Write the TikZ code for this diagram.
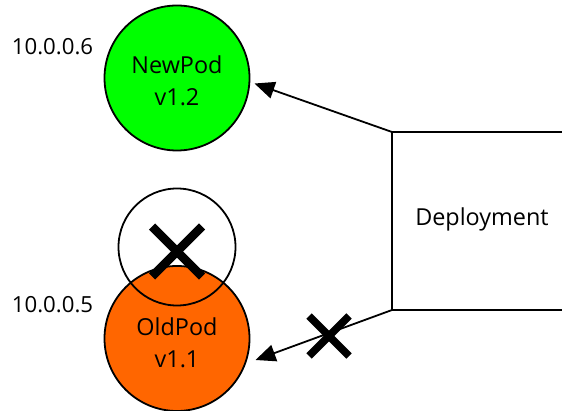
\documentclass[tikz,border=0pt]{standalone}
\usepackage{fontspec}
\setmainfont{Open Sans}
\usetikzlibrary{arrows.meta}
\definecolor{podgreen}{RGB}{0,255,0}
\definecolor{podorange}{RGB}{255,102,0}
\tikzset{
  x=1pt,y=-1pt,
  pod/.style={circle,draw=black,line width=1.8pt,minimum size=145pt,inner sep=0pt},
  podtext/.style={inner sep=0pt,align=center,font=\fontsize{23.4}{32}\selectfont},
  ghost/.style={circle,draw=black,line width=1.8pt,minimum size=117pt,inner sep=0pt},
  label/.style={inner sep=0pt,font=\fontsize{23.4}{28}\selectfont},
  iplabel/.style={inner sep=0pt,font=\fontsize{22.2}{28}\selectfont},
  link/.style={draw=black,line width=1.8pt},
  arrowlink/.style={link,-{Triangle[length=20pt,width=17pt]}},
  bigcross/.style={draw=black,line width=8.5pt},
  smallcross/.style={draw=black,line width=7.5pt}
}
\begin{document}
\begin{tikzpicture}
\useasboundingbox (0,0) rectangle (562,411);
\node[pod,fill=podgreen] (newpod) at (177,78) {};
\node[podtext] (newtext) at (177,80.5) {NewPod\\v1.2};
\node[pod,fill=podorange] (oldpod) at (177,338.5) {};
\node[podtext] (oldtext) at (177,342.5) {OldPod\\v1.1};
\node[ghost] (ghost) at (177,247) {};
\node[iplabel] (newip) at (52.5,47) {10.0.0.6};
\node[iplabel] (oldip) at (52.5,305) {10.0.0.5};
\node[label] (deploy) at (482,219) {Deployment};
\coordinate (tr) at (562,132);
\coordinate (tl) at (392,132);
\coordinate (bl) at (392,310);
\coordinate (br) at (562,310);
\coordinate (newtip) at (254.5,83.5);
\coordinate (oldtip) at (255.5,360);
\draw[link,line join=miter] (tr) -- (tl) -- (bl) -- (br);
\draw[arrowlink] (tl) -- (newtip);
\draw[arrowlink] (bl) -- (oldtip);
\coordinate (a1) at (152,226.5); \coordinate (a2) at (202,276.5);
\coordinate (a3) at (202,226.5); \coordinate (a4) at (152,276.5);
\draw[bigcross] (a1) -- (a2); \draw[bigcross] (a3) -- (a4);
\coordinate (b1) at (309,316); \coordinate (b2) at (349,356);
\coordinate (b3) at (349,316); \coordinate (b4) at (309,356);
\draw[smallcross] (b1) -- (b2); \draw[smallcross] (b3) -- (b4);
\end{tikzpicture}
\end{document}
